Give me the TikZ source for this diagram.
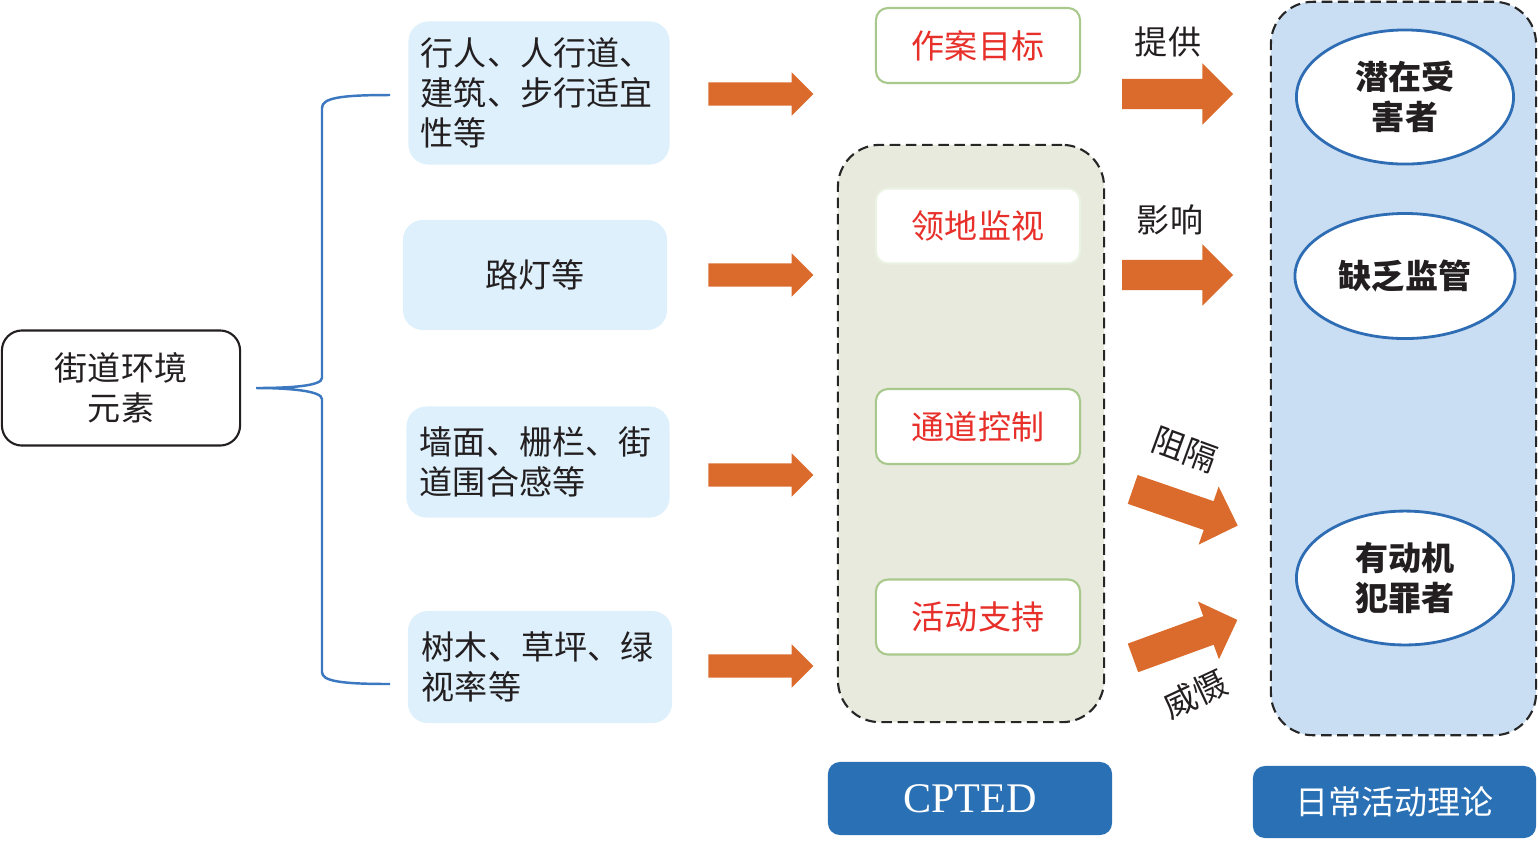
\documentclass[tikz,border=0pt]{standalone}
\usepackage{fontspec}
\setmainfont{Liberation Serif}
\newfontfamily\cjkfont{Noto Sans CJK SC}
\usetikzlibrary{shapes.geometric,shapes.arrows,positioning}

\definecolor{elemblue}{HTML}{DDF0FC}
\definecolor{zonegreen}{HTML}{E7EADD}
\definecolor{zoneblue}{HTML}{CADEF3}
\definecolor{pushorange}{HTML}{DA6B2C}
\definecolor{tacticgreen}{HTML}{A9C98C}
\definecolor{tacticred}{HTML}{E8302A}
\definecolor{labelblue}{HTML}{2A70B5}
\definecolor{ringblue}{HTML}{2E6DB4}
\definecolor{braceblue}{HTML}{3B78C0}
\definecolor{inkblack}{HTML}{231F20}

\begin{document}
\begin{tikzpicture}[x=0.01cm,y=-0.01cm,
  every node/.style={font=\cjkfont\fontsize{9.4}{11.3}\selectfont, text=inkblack},
  street/.style={draw=inkblack, line width=0.6pt, fill=white, rounded corners=0.2cm,
    minimum width=2.38cm, minimum height=1.15cm, align=center},
  element/.style={fill=elemblue, rounded corners=0.2cm, inner sep=0pt,
    minimum width=2.63cm, minimum height=1.11cm},
  elemtext/.style={element, align=left, text width=2.36cm},
  push/.style={single arrow, fill=pushorange, inner xsep=0pt, inner ysep=0.11cm,
    single arrow head extend=0.1cm, minimum height=1.05cm},
  bigpush/.style={push, inner ysep=0.145cm, single arrow head extend=0.155cm,
    minimum height=1.11cm},
  zone/.style={draw=black!85, line width=0.6pt, dash pattern=on 3pt off 1.6pt,
    rounded corners=0.42cm},
  tactic/.style={fill=white, draw=tacticgreen, line width=0.6pt, rounded corners=0.12cm,
    minimum width=2.04cm, minimum height=0.75cm, text=tacticred},
  actor/.style={ellipse, fill=white, draw=ringblue, line width=0.8pt,
    minimum width=2.17cm, minimum height=1.25cm, align=center, font=\cjkfont\bfseries\fontsize{9.4}{11.3}\selectfont},
  theory/.style={fill=labelblue, rounded corners=0.12cm, text=white,
    minimum width=2.84cm, minimum height=0.73cm},
  effect/.style={inner sep=0pt},
  brace/.style={draw=braceblue, line width=0.7pt}]
  \useasboundingbox (0,0) rectangle (1538,841);

  % street elements
  \node[street] (street) at (121,388) {街道环境\\元素};
  \node[elemtext, minimum width=2.61cm, minimum height=1.43cm] (walk) at (539,93)
    {行人、人行道、\\建筑、步行适宜\\性等};
  \node[element, minimum width=2.64cm, minimum height=1.10cm] (lamp) at (535,275) {路灯等};
  \node[elemtext] (wall) at (538,462) {墙面、栅栏、街\\道围合感等};
  \node[elemtext, minimum width=2.64cm, minimum height=1.12cm] (tree) at (540,667)
    {树木、草坪、绿\\视率等};

  \coordinate (brace top) at (390,95);
  \coordinate (brace bottom) at (390,684);
  \draw[brace] (brace top) .. controls (340,95) and (322,98) .. (322,108)
    -- (322,378) .. controls (322,386) and (290,388) .. ([xshift=0.15cm]street.east)
    .. controls (290,388) and (322,391) .. (322,399)
    -- (322,672) .. controls (322,681) and (340,684) .. (brace bottom);

  % arrows into CPTED
  \foreach \y in {94,275,475,666}
    \node[push] at (755,\y) {};

  % CPTED
  \node[zone, fill=zonegreen, minimum width=2.66cm, minimum height=5.77cm] (cpted zone) at (971,433.5) {};
  \node[tactic] (target) at (978,45.5) {作案目标};
  \node[tactic, draw=tacticgreen!25] (watch) at (978,226) {领地监视};
  \node[tactic] (access) at (978,426.5) {通道控制};
  \node[tactic] (support) at (978,617) {活动支持};
  \node[theory, font=\fontsize{12}{14}\selectfont] (cpted) at (970,798.5) {CPTED};

  % routine activity theory
  \node[zone, fill=zoneblue, minimum width=2.65cm, minimum height=7.33cm] (routine zone) at (1403.5,368.5) {};
  \node[actor] (victim) at (1405,97) {潜在受\\害者};
  \node[actor] (guard) at (1405,276) {缺乏监管};
  \node[actor] (offender) at (1405,578) {有动机\\犯罪者};
  \node[theory, minimum width=2.83cm, minimum height=0.72cm] (routine) at (1394.5,802) {日常活动理论};

  % effects
  \node[bigpush] (provide) at (1170,94) {};
  \node[bigpush] (affect) at (1170,275) {};
  \node[bigpush, rotate=-19] (block) at (1178,505) {};
  \node[bigpush, rotate=20] (deter) at (1178,641.5) {};
  \node[effect] at (1168,42) {提供};
  \node[effect] at (1170,220) {影响};
  \node[effect, rotate=-20] at (1185,450) {阻隔};
  \node[effect, rotate=25] at (1195,694) {威慑};
\end{tikzpicture}
\end{document}
